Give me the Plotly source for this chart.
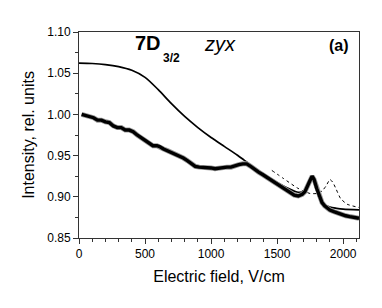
import plotly.graph_objects as go

# Experimental data (thick noisy curve)
exp_x = [20, 50, 80, 110, 140, 170, 200, 230, 260, 290, 320, 350, 380, 410, 440, 470,
         500, 530, 560, 590, 610, 640, 670, 700, 730, 760, 790, 820, 850, 880, 910, 940,
         970, 1000, 1030, 1060, 1090, 1120, 1150, 1180, 1210, 1240, 1270, 1300, 1330,
         1360, 1390, 1420, 1450, 1480, 1510, 1540, 1570, 1600, 1630, 1660, 1690, 1710,
         1730, 1750, 1765, 1780, 1800, 1820, 1840, 1860, 1880, 1900, 1930, 1960, 1990,
         2020, 2050, 2080, 2120]
exp_y = [1.000, 0.999, 0.997, 0.996, 0.993, 0.993, 0.991, 0.990, 0.986, 0.984, 0.984,
         0.981, 0.981, 0.979, 0.975, 0.972, 0.969, 0.966, 0.962, 0.962, 0.961, 0.958,
         0.956, 0.954, 0.952, 0.949, 0.947, 0.944, 0.940, 0.937, 0.936, 0.936, 0.936,
         0.935, 0.934, 0.935, 0.936, 0.936, 0.936, 0.938, 0.939, 0.940, 0.940, 0.937,
         0.933, 0.930, 0.927, 0.924, 0.921, 0.918, 0.915, 0.912, 0.909, 0.906, 0.902,
         0.901, 0.903, 0.906, 0.912, 0.920, 0.925, 0.921, 0.910, 0.900, 0.893, 0.889,
         0.886, 0.884, 0.882, 0.880, 0.879, 0.877, 0.876, 0.875, 0.874]

# Theory (solid line)
th_x = [0, 100, 200, 300, 400, 500, 600, 700, 800, 900, 1000, 1100, 1200, 1250, 1300,
        1400, 1500, 1600, 1650, 1700, 1730, 1765, 1790, 1820, 1850, 1900, 1950, 2000, 2120]
th_y = [1.0622, 1.0618, 1.0605, 1.0580, 1.0535, 1.0450, 1.0300, 1.0130, 0.9975, 0.9840,
        0.9720, 0.9612, 0.9505, 0.9445, 0.9385, 0.9275, 0.9175, 0.9090, 0.9058, 0.9065,
        0.9120, 0.9230, 0.9120, 0.8980, 0.8910, 0.8875, 0.8860, 0.8850, 0.8842]

# Theory variant (dotted line)
dot_x = [1460, 1550, 1650, 1700, 1750, 1800, 1840, 1870, 1900, 1920, 1945, 1980, 2030, 2120]
dot_y = [0.932, 0.922, 0.911, 0.907, 0.904, 0.904, 0.907, 0.913, 0.921, 0.918, 0.910,
         0.898, 0.891, 0.887]

x_ticks = [0, 500, 1000, 1500, 2000]
y_ticks = [0.85, 0.90, 0.95, 1.00, 1.05, 1.10]
y_tick_text = ["0.85", "0.90", "0.95", "1.00", "1.05", "1.10"]

FONT = "Liberation Sans, Arial, sans-serif"

fig = go.Figure()
fig.add_trace(go.Scatter(x=th_x, y=th_y, mode="lines", line=dict(color="black", width=1.7, shape="spline", smoothing=0.8)))
fig.add_trace(go.Scatter(x=dot_x, y=dot_y, mode="lines", line=dict(color="black", width=1, dash="dot", shape="spline", smoothing=0.5)))
fig.add_trace(go.Scatter(x=exp_x, y=exp_y, mode="lines", line=dict(color="#999999", width=5)))
fig.add_trace(go.Scatter(x=exp_x, y=exp_y, mode="lines", line=dict(color="black", width=3.4)))

# page body has an 8px margin, so margins are compensated
fig.update_layout(
    width=382, height=308,
    margin=dict(l=71, r=31, t=24, b=78, autoexpand=False),
    paper_bgcolor="white", plot_bgcolor="white",
    showlegend=False,
    font=dict(family=FONT, color="black", size=12),
    xaxis=dict(range=[0, 2120], tickvals=x_ticks, ticks="outside", ticklen=5, tickwidth=1,
               tickcolor="#333", showline=True, linecolor="#333", linewidth=1, mirror=True,
               showgrid=False, zeroline=False, tickfont=dict(size=12), automargin=False,
               minor=dict(dtick=100, ticks="outside", ticklen=3, tickcolor="#333"),
               title=dict(text="Electric field, V/cm", font=dict(size=16), standoff=10)),
    yaxis=dict(range=[0.85, 1.10], tickvals=y_ticks, ticktext=y_tick_text, ticks="outside",
               ticklen=5, tickwidth=1, tickcolor="#333", showline=True, linecolor="#333",
               linewidth=1, mirror=True, showgrid=False, zeroline=False, tickfont=dict(size=12),
               automargin=False,
               minor=dict(dtick=0.025, ticks="outside", ticklen=3, tickcolor="#333"),
               title=dict(text="Intensity, rel. units", font=dict(size=16), standoff=8)),
)

fig.add_annotation(xref="paper", yref="paper", x=0.193, y=0.947, xanchor="left", yanchor="middle",
                   text="<b>7D</b>", showarrow=False, font=dict(size=20, family=FONT))
fig.add_annotation(xref="paper", yref="paper", x=0.293, y=0.874, xanchor="left", yanchor="middle",
                   text="<b>3/2</b>", showarrow=False, font=dict(size=12, family=FONT))
fig.add_annotation(xref="paper", yref="paper", x=0.44, y=0.942, xanchor="left", yanchor="middle",
                   text="<i>zyx</i>", showarrow=False, font=dict(size=20, family=FONT))
fig.add_annotation(xref="paper", yref="paper", x=0.972, y=0.935, xanchor="right", yanchor="middle",
                   text="<b>(a)</b>", showarrow=False, font=dict(size=16, family=FONT))

fig.write_html("out.html")
